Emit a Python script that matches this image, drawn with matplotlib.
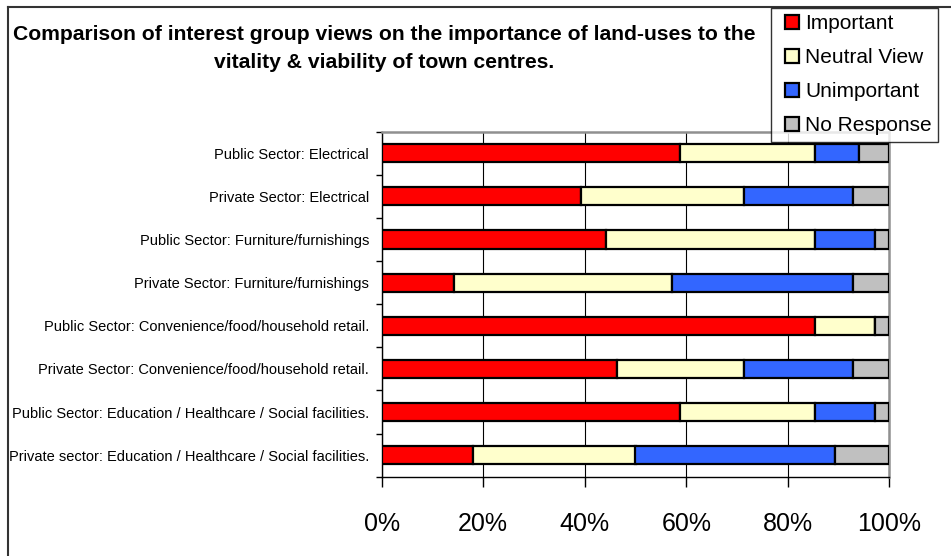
import numpy as np
import matplotlib
matplotlib.use("Agg")
import matplotlib.pyplot as plt
from matplotlib.lines import Line2D

plt.rcParams['font.family'] = ['Liberation Sans', 'DejaVu Sans']

# categories, top to bottom
categories = [
    "Public Sector: Electrical",
    "Private Sector: Electrical",
    "Public Sector: Furniture/furnishings",
    "Private Sector: Furniture/furnishings",
    "Public Sector: Convenience/food/household retail.",
    "Private Sector: Convenience/food/household retail.",
    "Public Sector: Education / Healthcare / Social facilities.",
    "Private sector: Education / Healthcare / Social facilities.",
]
# percentages of respondents
important   = [58.8, 39.3, 44.1, 14.3, 85.3, 46.4, 58.8, 17.9]
neutral     = [26.5, 32.1, 41.2, 42.9, 11.8, 25.0, 26.5, 32.1]
unimportant = [8.8, 21.4, 11.8, 35.7, 0.0, 21.4, 11.8, 39.3]
no_response = [5.9, 7.1, 2.9, 7.1, 2.9, 7.1, 2.9, 10.7]

series_names = ["Important", "Neutral View", "Unimportant", "No Response"]
colors = ["#FF0000", "#FFFFCC", "#3366FF", "#C0C0C0"]
xticks = [0, 20, 40, 60, 80, 100]

W, H = 951, 556
fig = plt.figure(figsize=(W / 100, H / 100), dpi=100)
ax = fig.add_axes([381.7 / W, 1 - 476.7 / H, (889.3 - 381.7) / W, (476.7 - 131.7) / H])

y = np.arange(len(categories))
left = np.zeros(len(categories))
for vals, c in zip([important, neutral, unimportant, no_response], colors):
    vals = np.array(vals)
    ax.barh(y, vals, left=left, height=0.42, color=c, edgecolor="black", linewidth=1.6, zorder=3)
    left += vals

ax.set_xlim(0, 100)
ax.set_ylim(len(categories) - 0.5, -0.5)
ax.set_xticks(xticks)
ax.set_xticklabels([f"{v}%" for v in xticks], fontsize=18)
ax.set_yticks(y)
ax.set_yticklabels(categories, fontsize=10.5)
ax.set_yticks(np.arange(len(categories) + 1) - 0.5, minor=True)
ax.tick_params(axis="y", which="major", length=0, pad=9)
ax.tick_params(axis="y", which="minor", length=4, width=1, direction="out")
ax.tick_params(axis="x", length=7, width=1, pad=18.5, direction="out")

ax.grid(axis="x", color="black", linewidth=0.8, zorder=0)
ax.set_axisbelow(True)
for s in ["top", "right"]:
    ax.spines[s].set_color("#909090")
    ax.spines[s].set_linewidth(1.8)
for s in ["left", "bottom"]:
    ax.spines[s].set_color("black")
    ax.spines[s].set_linewidth(1.0)

# outer frame (left and top edges)
fig.add_artist(Line2D([8 / W, 8 / W], [0, 1 - 7 / H], color="#333333", linewidth=1.5))
fig.add_artist(Line2D([8 / W, 1], [1 - 7 / H, 1 - 7 / H], color="#333333", linewidth=1.5))

fig.text(384 / W, 1 - 35 / H, "Comparison of interest group views on the importance of land-uses to the",
         ha="center", va="center", fontsize=15.2, fontweight="bold")
fig.text(384 / W, 1 - 62 / H, "vitality & viability of town centres.",
         ha="center", va="center", fontsize=15.2, fontweight="bold")

handles = [Line2D([], [], linestyle="none", marker="s", markersize=10.5, markerfacecolor=c,
                  markeredgecolor="black", markeredgewidth=1.6) for c in colors]
leg = fig.legend(handles, series_names, loc="upper left",
                 bbox_to_anchor=(771 / W, 1 - 8 / H),
                 fontsize=15, frameon=True, fancybox=False, borderpad=0.3, handlelength=1.45,
                 handletextpad=-0.12, labelspacing=0.72, borderaxespad=0)
leg.get_frame().set_edgecolor("black")
leg.get_frame().set_linewidth(1.0)

fig.savefig("out.png", dpi=100)
